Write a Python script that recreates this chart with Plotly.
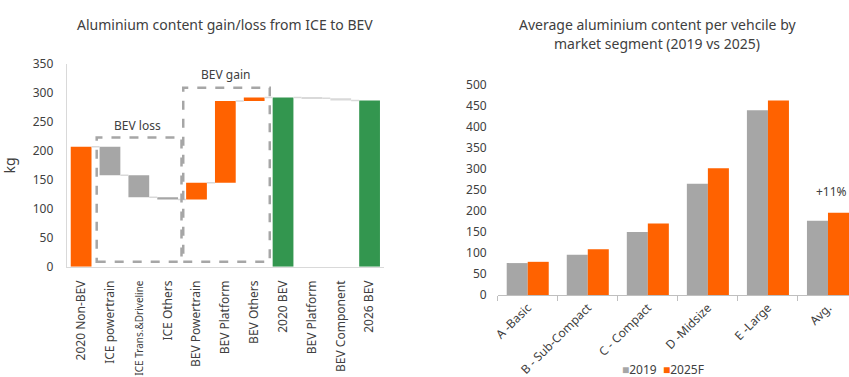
import plotly.graph_objects as go

# ---- Left panel: aluminium content waterfall (kg) ----
wf_labels = ["2020 Non-BEV", "ICE powertrain", "ICE Trans.&Driveline", "ICE Others",
             "BEV Powertrain", "BEV Platform", "BEV Others", "2020 BEV",
             "BEV Platform", "BEV Component", "2026 BEV"]
wf_measure = ["absolute", "relative", "relative", "relative", "relative", "relative",
              "relative", "total", "relative", "relative", "total"]
wf_values = [207, -49, -38, -4, 29, 141, 6, 0, -1, -4, 0]
wf_colors = ["#ff6200", "#a6a6a6", "#a6a6a6", "#a6a6a6", "#ff6200", "#ff6200",
             "#ff6200", "#33964f", "#d9d9d9", "#d9d9d9", "#33964f"]

# ---- Right panel: average aluminium content by segment ----
segments = ["A -Basic", "B - Sub-Compact", "C - Compact", "D -Midsize", "E -Large", "Avg."]
content_2019 = [76, 96, 150, 265, 440, 177]
content_2025 = [79, 109, 170, 302, 463, 196]

FONT = "Noto Sans"
TXT = "#404040"
ORANGE = "#ff6200"
GREY = "#a6a6a6"

# compute waterfall bases/heights and running levels
bases, heights, levels = [], [], []
level = 0
for m, v in zip(wf_measure, wf_values):
    if m == "absolute":
        level = v
        bases.append(0); heights.append(v)
    elif m == "total":
        bases.append(0); heights.append(level)
    else:
        bases.append(level if v >= 0 else level + v); heights.append(abs(v))
        level += v
    levels.append(level)

BW = 0.72
xs = list(range(len(wf_labels)))

# long tick labels get a smaller font so they stay inside the page
tick_text = [f"<span style='font-size:10px'>{t}</span>" if len(t) > 16 else t
             for t in wf_labels]

fig = go.Figure()
fig.add_trace(go.Bar(x=xs, y=heights, base=bases, width=BW, marker_color=wf_colors,
                     marker_line_width=0, showlegend=False, hoverinfo="skip",
                     xaxis="x", yaxis="y"))

# connector lines between consecutive bars
cx, cy = [], []
for i in range(len(xs) - 1):
    cx += [xs[i] + BW / 2, xs[i + 1] - BW / 2, None]
    cy += [levels[i], levels[i], None]
fig.add_trace(go.Scatter(x=cx, y=cy, mode="lines", line=dict(color="#d9d9d9", width=1.5),
                         showlegend=False, hoverinfo="skip", xaxis="x", yaxis="y"))

fig.add_trace(go.Bar(x=segments, y=content_2019, name="2019", marker_color=GREY,
                     marker_line_width=0, showlegend=False, xaxis="x2", yaxis="y2"))
fig.add_trace(go.Bar(x=segments, y=content_2025, name="2025F", marker_color=ORANGE,
                     marker_line_width=0, showlegend=False, xaxis="x2", yaxis="y2"))

box = dict(type="rect", xref="x", yref="y", line=dict(color="#a6a6a6", width=2.5, dash="dash"),
           fillcolor="rgba(0,0,0,0)")
shapes = [
    dict(box, x0=0.54, x1=3.48, y0=8.6, y1=223),
    dict(box, x0=3.54, x1=6.54, y0=8.6, y1=309),
]

legend_text = (f"<span style='color:{GREY}'>■</span>2019  "
               f"<span style='color:{ORANGE}'>■</span>2025F")

annotations = [
    dict(text="Aluminium content gain/loss from ICE to BEV", xref="paper", yref="paper",
         x=225 / 849, y=1 - 24.5 / 377, xanchor="center", yanchor="middle", showarrow=False,
         font=dict(size=14, color=TXT, family=FONT)),
    dict(text="Average aluminium content per vehcile by", xref="paper", yref="paper",
         x=657 / 849, y=1 - 25 / 377, xanchor="center", yanchor="middle", showarrow=False,
         font=dict(size=14, color=TXT, family=FONT)),
    dict(text="market segment (2019 vs 2025)", xref="paper", yref="paper",
         x=657 / 849, y=1 - 43.5 / 377, xanchor="center", yanchor="middle", showarrow=False,
         font=dict(size=14, color=TXT, family=FONT)),
    dict(text="BEV loss", xref="x", yref="y", x=1.97, y=243, showarrow=False,
         font=dict(size=12, color=TXT, family=FONT)),
    dict(text="BEV gain", xref="x", yref="y", x=4.99, y=332, showarrow=False,
         font=dict(size=12, color=TXT, family=FONT)),
    dict(text="+11%", xref="paper", yref="y2", x=1.0, y=246, xanchor="right", showarrow=False,
         font=dict(size=12, color=TXT, family=FONT)),
    dict(text=legend_text, xref="paper", yref="paper", x=663 / 849, y=1 - 369 / 377,
         xanchor="center", yanchor="middle", showarrow=False,
         font=dict(size=12, color=TXT, family=FONT)),
]

fig.update_layout(
    width=849, height=377, margin=dict(l=0, r=0, t=0, b=0),
    paper_bgcolor="white", plot_bgcolor="white",
    font=dict(family=FONT, size=12, color=TXT),
    barmode="group", bargap=0.3, bargroupgap=0, showlegend=False,
    shapes=shapes, annotations=annotations,
    xaxis=dict(domain=[66.7 / 849, 384 / 849], range=[-0.5, 10.5], tickvals=xs,
               ticktext=tick_text, tickangle=-90, showgrid=False, zeroline=False,
               showline=True, linecolor="#d9d9d9", linewidth=1, ticks="",
               ticklabelstandoff=8, automargin=False,
               tickfont=dict(size=12, color=TXT), anchor="y"),
    yaxis=dict(domain=[1 - 266.7 / 377, 1 - 64 / 377], range=[0, 350], dtick=50,
               showgrid=False, zeroline=False, showline=True, linecolor="#d9d9d9",
               linewidth=1, ticks="", ticklabelstandoff=10, automargin=False,
               tickfont=dict(size=12, color=TXT), anchor="x",
               title=dict(text="kg", font=dict(size=14, color=TXT), standoff=14)),
    xaxis2=dict(domain=[497.7 / 849, 1.0], range=[-0.5, 5.35], tickangle=-45,
                showgrid=False, zeroline=False, showline=True, linecolor="#bfbfbf",
                linewidth=1, ticks="outside", tickson="boundaries", ticklen=5,
                tickcolor="#bfbfbf", automargin=False,
                tickfont=dict(size=12, color=TXT), anchor="y2"),
    yaxis2=dict(domain=[1 - 295 / 377, 1 - 85 / 377], range=[0, 500], dtick=50,
                showgrid=False, zeroline=False, showline=False, ticks="",
                ticklabelstandoff=10, automargin=False,
                tickfont=dict(size=12, color=TXT), anchor="x2"),
)

fig.write_html("out.html")
